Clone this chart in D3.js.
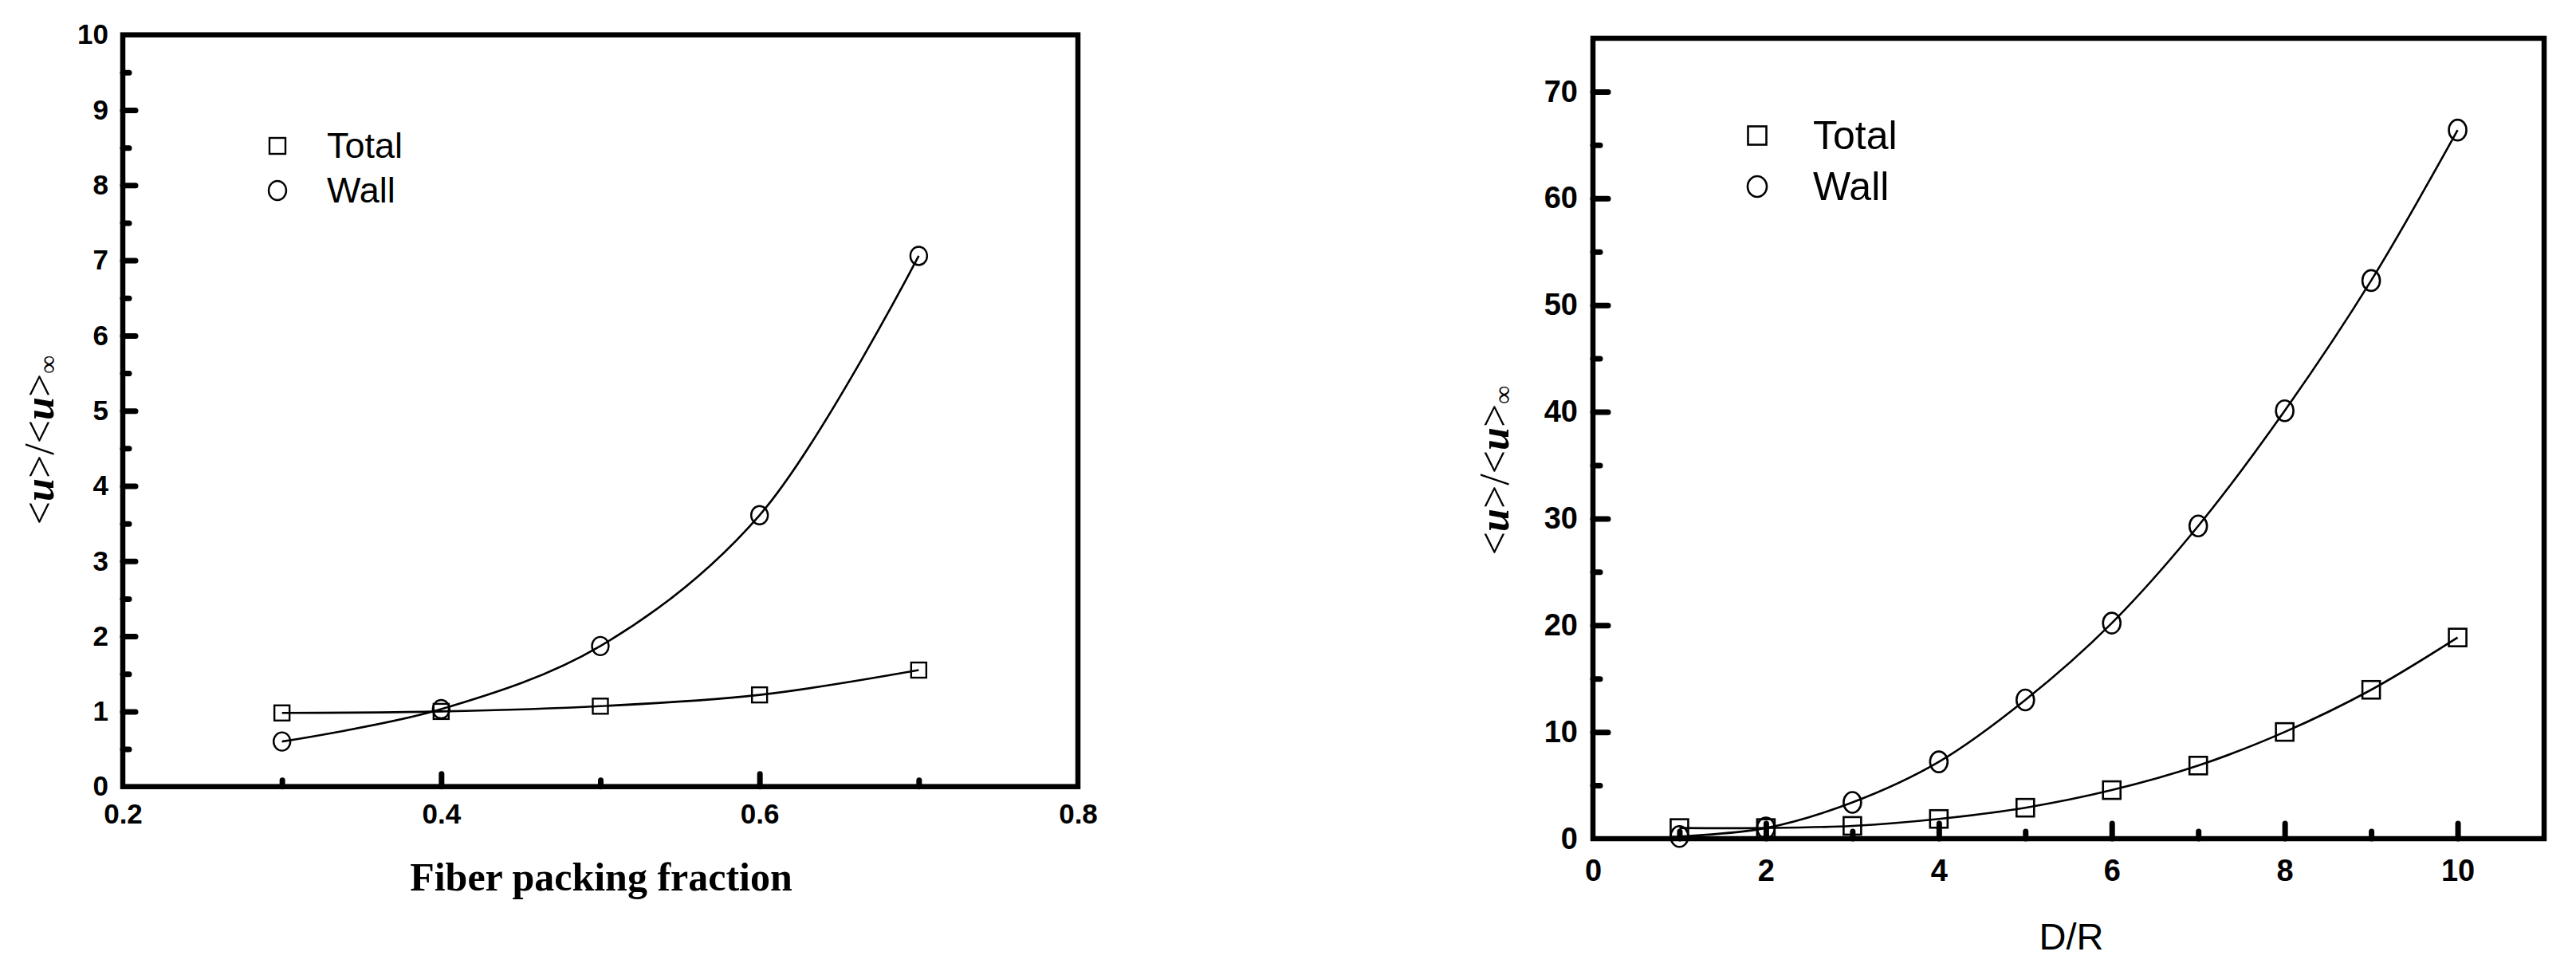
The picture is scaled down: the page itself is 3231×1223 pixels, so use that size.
<!DOCTYPE html>
<html>
<head>
<meta charset="utf-8">
<script src="https://cdn.jsdelivr.net/npm/d3@7"></script>
<style>
  html, body { margin: 0; padding: 0; background: #fff; }
  svg { display: block; }
</style>
</head>
<body>
<svg id="chart" width="3231" height="1223"></svg>
<script>
// ---------- data ----------
const seriesNames = ["Total", "Wall"];

// Left panel: Fiber packing fraction
const packingFraction = [0.3, 0.4, 0.5, 0.6, 0.7];
const leftTotal = [0.98, 1.0, 1.07, 1.22, 1.55];
const leftWall  = [0.60, 1.03, 1.87, 3.61, 7.06];

// Right panel: D/R
const dOverR = [1, 2, 3, 4, 5, 6, 7, 8, 9, 10];
const rightTotal = [1.0, 1.0, 1.2, 1.85, 2.9, 4.55, 6.85, 10.0, 13.95, 18.85];
const rightWall  = [0.2, 1.0, 3.4, 7.2, 13.0, 20.2, 29.3, 40.1, 52.3, 66.4];

// tick values
const leftXMajor = [0.2, 0.4, 0.6, 0.8];
const leftXMinor = [0.3, 0.5, 0.7];
const leftYMajor = [0, 1, 2, 3, 4, 5, 6, 7, 8, 9, 10];
const leftYMinor = [0.5, 1.5, 2.5, 3.5, 4.5, 5.5, 6.5, 7.5, 8.5, 9.5];
const rightXMajor = [0, 2, 4, 6, 8, 10];
const rightXMinor = [1, 3, 5, 7, 9];
const rightYMajor = [0, 10, 20, 30, 40, 50, 60, 70];
const rightYMinor = [5, 15, 25, 35, 45, 55, 65];

const svg = d3.select("#chart");

function drawPanel(cfg) {
  const g = svg.append("g");
  const x = d3.scaleLinear().domain(cfg.xDomain).range([cfg.left, cfg.right]);
  const y = d3.scaleLinear().domain(cfg.yDomain).range([cfg.bottom, cfg.top]);

  const styleAxis = (sel, fontSize) => {
    sel.select(".domain").remove();
    sel.selectAll(".tick line")
      .attr("stroke", "#000").attr("stroke-width", 7).attr("stroke-linecap", "round");
    sel.selectAll(".tick text")
      .attr("fill", "#000")
      .style("font-family", "'Liberation Sans', Arial, sans-serif")
      .style("font-weight", "bold")
      .style("font-size", fontSize + "px");
  };

  // minor ticks
  g.append("g").attr("transform", `translate(0,${cfg.bottom})`)
    .call(d3.axisBottom(x).tickValues(cfg.xMinor).tickSize(-cfg.minorLen).tickFormat(""))
    .call(s => styleAxis(s, cfg.tickFont));
  g.append("g").attr("transform", `translate(${cfg.left},0)`)
    .call(d3.axisLeft(y).tickValues(cfg.yMinor).tickSize(-cfg.minorLen).tickFormat(""))
    .call(s => styleAxis(s, cfg.tickFont));

  // major ticks + labels
  const xAx = g.append("g").attr("transform", `translate(0,${cfg.bottom})`)
    .call(d3.axisBottom(x).tickValues(cfg.xMajor).tickSize(-cfg.majorLen)
      .tickPadding(cfg.xPad).tickFormat(cfg.xFormat))
    .call(s => styleAxis(s, cfg.tickFont));
  // hide tick lines that coincide with the frame
  xAx.selectAll(".tick line").filter(d => d === cfg.xDomain[0] || d === cfg.xDomain[1]).remove();
  const yAx = g.append("g").attr("transform", `translate(${cfg.left},0)`)
    .call(d3.axisLeft(y).tickValues(cfg.yMajor).tickSize(-cfg.majorLen)
      .tickPadding(cfg.yPad).tickFormat(d3.format("d")))
    .call(s => styleAxis(s, cfg.tickFont));
  yAx.selectAll(".tick line").filter(d => d === cfg.yDomain[0] || d === cfg.yDomain[1]).remove();

  // frame
  g.append("rect")
    .attr("x", cfg.left).attr("y", cfg.top)
    .attr("width", cfg.right - cfg.left).attr("height", cfg.bottom - cfg.top)
    .attr("fill", "none").attr("stroke", "#000").attr("stroke-width", 6.5);

  // curves
  const line = d3.line().x(d => x(d[0])).y(d => y(d[1])).curve(d3.curveCatmullRom.alpha(0.5));
  cfg.series.forEach(s => {
    const pts = cfg.xs.map((v, i) => [v, s.values[i]]);
    g.append("path").datum(pts).attr("d", line)
      .attr("fill", "none").attr("stroke", "#000").attr("stroke-width", 2.6);
  });

  // markers
  const drawMarker = (sel, type, cx, cy, m) => {
    if (type === "square") {
      sel.append("rect").attr("x", cx - m.sq / 2).attr("y", cy - m.sq / 2)
        .attr("width", m.sq).attr("height", m.sq)
        .attr("fill", "none").attr("stroke", "#000").attr("stroke-width", m.sw);
    } else {
      sel.append("ellipse").attr("cx", cx).attr("cy", cy).attr("rx", m.rx).attr("ry", m.ry)
        .attr("fill", "none").attr("stroke", "#000").attr("stroke-width", m.sw);
    }
  };
  cfg.series.forEach(s => {
    cfg.xs.forEach((v, i) => drawMarker(g, s.marker, x(v), y(s.values[i]), cfg.mark));
  });

  // legend
  cfg.series.forEach((s, i) => {
    const ly = cfg.legend.y0 + i * cfg.legend.dy;
    drawMarker(g, s.marker, cfg.legend.x, ly, cfg.legend.mark);
    g.append("text").attr("x", cfg.legend.tx).attr("y", ly + cfg.legend.baseOff)
      .attr("fill", "#000")
      .style("font-family", "'Liberation Sans', Arial, sans-serif")
      .style("font-size", cfg.legend.font + "px")
      .text(s.name);
  });

  // x title
  const xt = g.append("text").attr("x", cfg.xTitle.x).attr("y", cfg.xTitle.y)
    .attr("text-anchor", "middle").attr("fill", "#000")
    .style("font-family", cfg.xTitle.family)
    .style("font-weight", cfg.xTitle.weight)
    .style("font-size", cfg.xTitle.size + "px")
    .text(cfg.xTitle.text);

  // y title  <u>/<u>∞
  const yt = g.append("text")
    .attr("transform", `translate(${cfg.yTitle.x},${cfg.yTitle.y}) rotate(-90)`)
    .attr("text-anchor", "middle").attr("fill", "#000")
    .style("font-family", "'Liberation Serif', 'Times New Roman', serif")
    .style("font-size", cfg.yTitle.size + "px");
  yt.append("tspan").text("<");
  yt.append("tspan").style("font-weight", "bold").style("font-style", "italic").text("u");
  yt.append("tspan").text(">/<");
  yt.append("tspan").style("font-weight", "bold").style("font-style", "italic").text("u");
  yt.append("tspan").text(">");
  yt.append("tspan").attr("dy", 4).style("font-size", (cfg.yTitle.size * 0.62) + "px").text("∞");
}

drawPanel({
  xDomain: [0.2, 0.8], yDomain: [0, 10],
  left: 154, right: 1352, top: 43.7, bottom: 986.7,
  xMajor: leftXMajor, xMinor: leftXMinor, yMajor: leftYMajor, yMinor: leftYMinor,
  xFormat: d3.format(".1f"),
  majorLen: 16, minorLen: 8, xPad: 21, yPad: 18, tickFont: 35,
  xs: packingFraction,
  series: [
    { name: seriesNames[0], values: leftTotal, marker: "square" },
    { name: seriesNames[1], values: leftWall, marker: "circle" }
  ],
  mark: { sq: 19, rx: 10.5, ry: 11.5, sw: 2.4 },
  legend: { x: 348, y0: 183, dy: 56, tx: 410, baseOff: 15, font: 45,
            mark: { sq: 20, rx: 11, ry: 12, sw: 2.4 } },
  xTitle: { text: "Fiber packing fraction", x: 754, y: 1117, size: 50,
            family: "'Liberation Serif', 'Times New Roman', serif", weight: "bold" },
  yTitle: { x: 67, y: 552, size: 52 }
});

drawPanel({
  xDomain: [0, 11], yDomain: [0, 75],
  left: 1998, right: 3191, top: 48, bottom: 1052,
  xMajor: rightXMajor, xMinor: rightXMinor, yMajor: rightYMajor, yMinor: rightYMinor,
  xFormat: d3.format("d"),
  majorLen: 19, minorLen: 9, xPad: 26, yPad: 19, tickFont: 38,
  xs: dOverR,
  series: [
    { name: seriesNames[0], values: rightTotal, marker: "square" },
    { name: seriesNames[1], values: rightWall, marker: "circle" }
  ],
  mark: { sq: 22, rx: 11, ry: 13, sw: 2.6 },
  legend: { x: 2204, y0: 170, dy: 64, tx: 2274, baseOff: 17, font: 50,
            mark: { sq: 23, rx: 12, ry: 13, sw: 2.6 } },
  xTitle: { text: "D/R", x: 2598, y: 1191, size: 47,
            family: "'Liberation Sans', Arial, sans-serif", weight: "normal" },
  yTitle: { x: 1892, y: 590, size: 52 }
});
</script>
</body>
</html>
